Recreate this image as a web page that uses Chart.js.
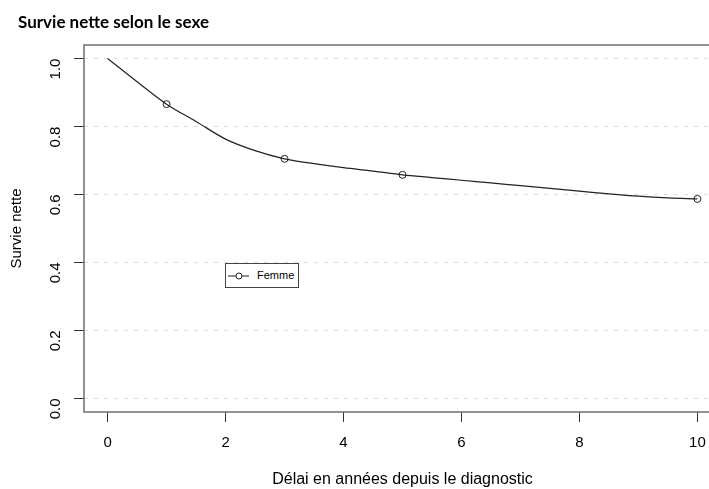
<!DOCTYPE html>
<html>
<head>
<meta charset="utf-8">
<script src="https://cdn.jsdelivr.net/npm/chart.js@4/dist/chart.umd.min.js"></script>
<style>
  html, body { margin: 0; padding: 0; overflow: hidden; background: #fff; }
  #wrap { position: relative; width: 709px; height: 489px; overflow: hidden; }
  #titre { position: absolute; left: 18px; top: 13px; font: bold 17px Lato, sans-serif; color: #000; line-height: 17px; white-space: nowrap; }
  #legende { position: absolute; left: 225px; top: 263px; width: 74px; height: 25px; box-sizing: border-box;
             border: 1px solid #444; background: #fff; font: 11px "Liberation Sans", Arial, sans-serif; }
  #legende svg { position: absolute; left: 1px; top: 6px; }
  #legende span { position: absolute; left: 31px; top: 5px; line-height: 13px; }
</style>
</head>
<body>
<div id="wrap">
  <canvas id="c" width="726" height="489"></canvas>
  <div id="titre">Survie nette selon le sexe</div>
  <div id="legende">
    <svg width="24" height="12"><line x1="1" y1="6" x2="22" y2="6" stroke="#222" stroke-width="1"/><circle cx="12" cy="6" r="3" fill="#fff" stroke="#222" stroke-width="1"/></svg>
    <span>Femme</span>
  </div>
</div>
<script>
// survie nette (femmes)
let annees = [0, 0.5, 1, 1.5, 2, 2.5, 3, 3.5, 4, 4.5, 5, 5.5, 6, 6.5, 7, 7.5, 8, 8.5, 9, 9.5, 10];
let survie = [1.0, 0.932, 0.866, 0.815, 0.763, 0.729, 0.705, 0.691, 0.679, 0.669, 0.658, 0.650, 0.642, 0.634, 0.626, 0.618, 0.610, 0.602, 0.595, 0.590, 0.587];
let anneesMarquees = [1, 3, 5, 10];
let ticksX = [0, 2, 4, 6, 8, 10];
let ticksY = [0, 0.2, 0.4, 0.6, 0.8, 1.0];

let points = [];
for (i = 0; i < annees.length; i++) {
  points.push({x: annees[i], y: survie[i]});
}

const cadre = {
  id: 'cadre',
  afterDraw(chart) {
    let a = chart.chartArea, ctx = chart.ctx;
    ctx.save();
    ctx.strokeStyle = '#6f6f6f';
    ctx.lineWidth = 1.5;
    ctx.strokeRect(a.left, a.top, a.right - a.left, a.bottom - a.top);
    ctx.restore();
  }
};

new Chart(document.getElementById('c'), {
  type: 'line',
  data: {
    datasets: [{
      label: 'Femme',
      data: points,
      borderColor: '#222',
      borderWidth: 1.2,
      cubicInterpolationMode: 'monotone',
      pointRadius: ctx => anneesMarquees.includes(annees[ctx.dataIndex]) ? 3.5 : 0,
      pointBackgroundColor: 'rgba(0,0,0,0)',
      pointBorderColor: '#222',
      pointBorderWidth: 1,
      fill: false
    }]
  },
  options: {
    responsive: false,
    animation: false,
    layout: { padding: { top: 45, left: 0, right: 2, bottom: 0 } },
    plugins: { legend: { display: false }, tooltip: { enabled: false } },
    scales: {
      x: {
        type: 'linear', min: -0.4, max: 10.4,
        afterBuildTicks: s => { s.ticks = ticksX.map(v => ({value: v})); },
        afterFit: s => { s.height = 77; },
        grid: { drawOnChartArea: false, tickLength: 10, tickColor: '#333', tickWidth: 1 },
        border: { display: false },
        ticks: { color: '#000', padding: 12, font: { family: 'Liberation Sans', size: 15 } },
        title: { display: true, text: 'Délai en années depuis le diagnostic', color: '#000',
                 font: { family: 'Liberation Sans', size: 16 }, padding: { top: 0, bottom: 0 } }
      },
      y: {
        type: 'linear', min: -0.04, max: 1.04,
        afterBuildTicks: s => { s.ticks = ticksY.map(v => ({value: v})); },
        afterFit: s => { s.width = 84; },
        grid: { color: '#dcdcdc', lineWidth: 1, tickLength: 10, tickColor: '#333', tickWidth: 1 },
        border: { display: false, dash: [4, 6] },
        ticks: { color: '#000', padding: 18, minRotation: 90, maxRotation: 90, align: 'center',
                 font: { family: 'Liberation Sans', size: 15 },
                 callback: v => v.toFixed(1) },
        title: { display: true, text: 'Survie nette', color: '#000',
                 font: { family: 'Liberation Sans', size: 15 }, padding: { top: 8, bottom: 0 } }
      }
    }
  },
  plugins: [cadre]
});
</script>
</body>
</html>
